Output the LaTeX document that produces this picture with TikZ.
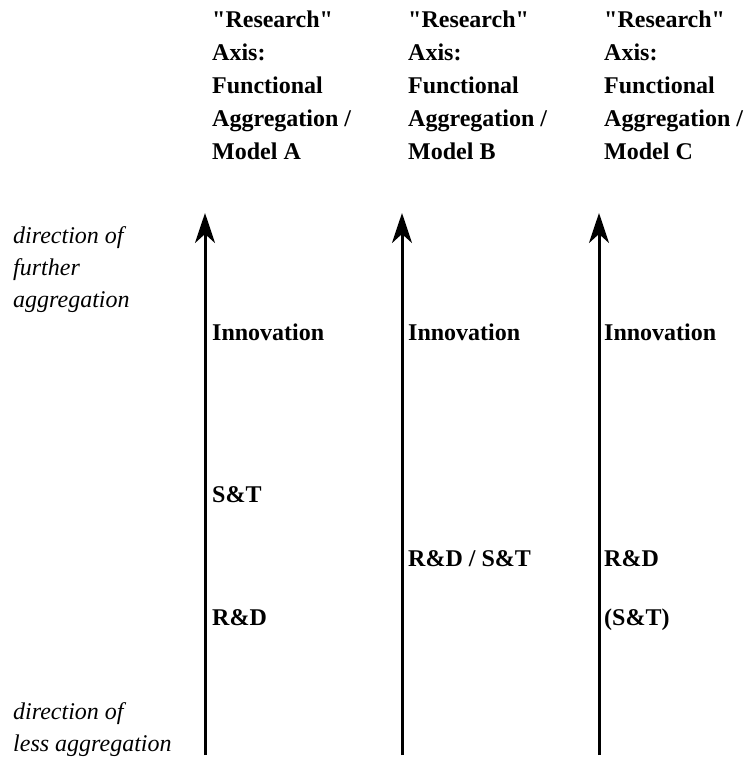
\documentclass[tikz,border=0pt]{standalone}
\usepackage{fontspec}
\setmainfont{Liberation Serif}[Ligatures=TeXOff]
\usetikzlibrary{arrows.meta}

\tikzset{
  axisline/.style={line width=3pt, -{Stealth[length=30pt, width=20pt, inset=9pt]}},
  headtext/.style={anchor=north west, inner sep=0pt, align=left, font=\fontsize{24}{33}\selectfont\bfseries},
  leveltext/.style={anchor=base west, inner sep=0pt, font=\fontsize{24}{33}\selectfont\bfseries},
  sidetext/.style={anchor=north west, inner sep=0pt, align=left, font=\fontsize{24}{32}\selectfont\itshape}
}

\begin{document}
\begin{tikzpicture}[x=1pt, y=-1pt]
 \useasboundingbox (0,0) rectangle (744,758);

 % side notes
 \node[sidetext] at (13, 226.5) (further) {direction of\\further\\aggregation};
 \node[sidetext] at (13, 702.5) (less)    {direction of\\less aggregation};

 % the three axes
 \coordinate (botA) at (205, 755);  \coordinate (topA) at (205, 213);
 \coordinate (botB) at (402, 755);  \coordinate (topB) at (402, 213);
 \coordinate (botC) at (599, 755);  \coordinate (topC) at (599, 213);
 \draw[axisline] (botA) -- (topA);
 \draw[axisline] (botB) -- (topB);
 \draw[axisline] (botC) -- (topC);

 % headings
 \node[headtext] at (212, 11) (headA) {"Research"\\Axis:\\Functional\\Aggregation /\\Model A};
 \node[headtext] at (408, 11) (headB) {"Research"\\Axis:\\Functional\\Aggregation /\\Model B};
 \node[headtext] at (604, 11) (headC) {"Research"\\Axis:\\Functional\\Aggregation /\\Model C};

 % levels, model A
 \node[leveltext] at (212, 340) (innoA) {Innovation};
 \node[leveltext] at (212, 502) (stA)   {S\&T};
 \node[leveltext] at (212, 625) (rdA)   {R\&D};
 % levels, model B
 \node[leveltext] at (408, 340) (innoB) {Innovation};
 \node[leveltext] at (408, 566) (rdstB) {R\&D / S\&T};
 % levels, model C
 \node[leveltext] at (604, 340) (innoC) {Innovation};
 \node[leveltext] at (604, 566) (rdC)   {R\&D};
 \node[leveltext] at (604, 625) (stC)   {(S\&T)};
\end{tikzpicture}
\end{document}
